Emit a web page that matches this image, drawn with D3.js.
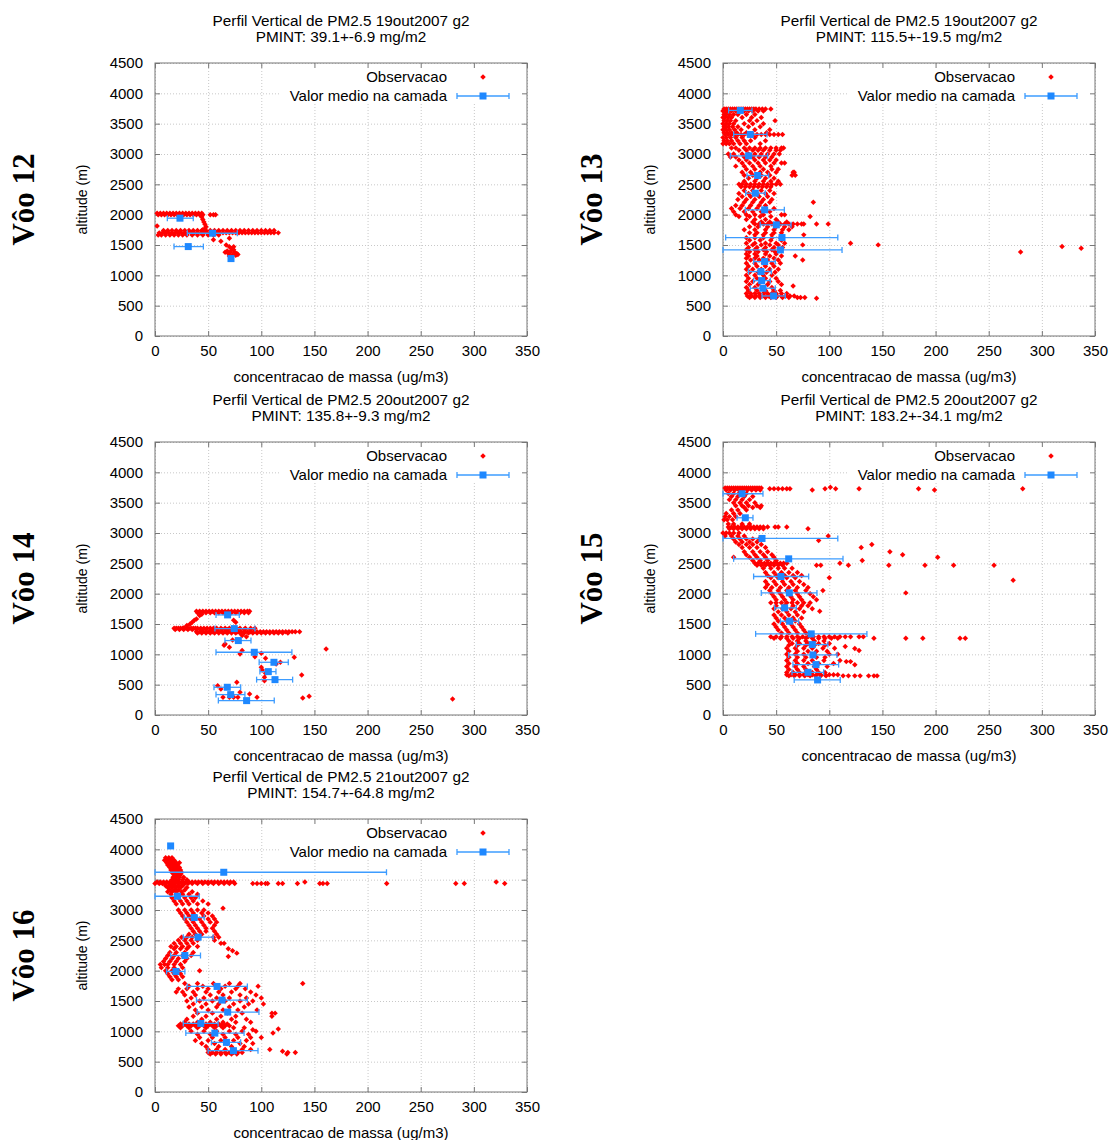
<!DOCTYPE html>
<html>
<head>
<meta charset="utf-8">
<script src="https://cdn.jsdelivr.net/npm/d3@7"></script>
<style>
  body { margin: 0; background: #fff; }
  text { font-family: "Liberation Sans", Arial, sans-serif; fill: #000; }
  .grid line { stroke: #c8c8c8; stroke-dasharray: 1,2; }
  .grid path { display: none; }
  .tick-ax path { display: none; }
  .tick-ax line { stroke: #777; }
</style>
</head>
<body>
<div id="chart"></div>
<script>
// observations: rows of [altitude, [concentration values...]]
var obs12 = [
  [2025, [2,5,8,11,14,17,20,23,26,29,32,35,38,41,44]],
  [2000, [3,6,9,12,15,18,21,24,27,30,33,36,39,42,45,52,55,57]],
  [1960, [44]], [1920, [45]], [1880, [46]], [1840, [47]], [1800, [48]], [1770, [47]], [1750, [45]],
  [1815, [2]],
  [1740, [8,12,16,20,24,28,32,36,40,44,48,52,56,60,64,68,72,76,80,84,88,92,96,100,104,108,112]],
  [1700, [4,7,10,13,16,19,22,25,28,31,34,37,40,43,46,49,52,55,58,61,64,67,70,73,76,79,82,85,88,91,94,97,100,103,106,109,112,116]],
  [1665, [3,6,10,14,18,22,26,30,35,40,45,50,55,60]],
  [1610, [70]], [1585, [55]], [1560, [62]], [1500, [67]],
  [1470, [70,74]], [1440, [72]], [1420, [74]], [1400, [68]], [1390, [71]], [1380, [66,75]],
  [1360, [69,77]], [1345, [78]], [1340, [73]], [1330, [76]], [1320, [70]], [1310, [72]]
];
var mean12 = [[23.5,1942,11.6,36],[54.2,1694,30.4,77.4],[31.3,1474,17.9,45.5],[71.5,1276,71.5,71.5]];

var obs13 = [
  [3740, [1,3,5,7,9,11,13,15,17,19,21,23,25,27,29,31,34,37,40,45]],
  [3710, [0,2,4,6,8,12,16,20,24,28,33,38]],
  [3650, [1,3,6,10,14,22,30]], [3600, [0,2,5,8,18,27,36]], [3550, [1,4,7,12,25,32,49]],
  [3500, [0,3,6,10,20,28,38]], [3450, [1,2,5,9,14,24,35]], [3400, [0,3,6,11,17,30,44]],
  [3350, [1,4,8,13,22,41]],
  [3320, [2,5,8,11,14,17,20,24,28,32,36,40,44,48,52,56]],
  [3270, [0,3,7,12,18,30]], [3220, [1,4,8,14,20,26,40]], [3170, [0,3,6,10,16,22,35]],
  [3100, [8,12,20,25,30,35,40,45,50,55,57]], [3060, [15,22,28,33,38,44,50,54]],
  [3000, [5,10,18,24,30,36,42,48,53]], [2950, [7,12,20,28,34,40,46]], [2900, [15,22,30,38,44,50]],
  [2850, [18,25,33,40,48,55,58]], [2800, [12,20,28,35,45]], [2750, [22,30,38,46,52]],
  [2700, [18,26,35,42,50,66,67]], [2650, [20,28,36,44,65,68]], [2600, [24,32,40,48]],
  [2550, [20,30,38,45,52]], [2500, [15,18,22,26,30,34,38,42,46,50,54]], [2460, [17,21,25,29,33,37,41,45]],
  [2400, [20,28,36,44]], [2350, [15,24,32,40,48]], [2300, [18,26,34,42]], [2250, [14,22,30,38,46]],
  [2205, [20,28,36,44,85]], [2150, [12,18,26,34,40]], [2100, [8,16,24,32,40,48]], [2050, [10,20,28,36,44]],
  [2000, [12,22,30,38,55,58]], [1970, [15,25,35,45,82]], [1920, [22,30,40,50]], [1880, [28,36,44,52,60]],
  [1845, [30,34,38,42,46,50,54,58,62,66,70,74,76,88,99]], [1800, [25,33,42,50,58,65]],
  [1750, [20,30,40,48,56,62]], [1700, [25,32,40,48,55]], [1667, [30,38,46,76]], [1620, [22,30,38,46,54]],
  [1580, [25,35,45,55]], [1530, [22,30,40,50,58,120]], [1502, [28,36,44,52,75,146]],
  [1474, [319]], [1447, [337]], [1386, [280]],
  [1460, [24,32,40,48,56]], [1420, [22,30,38,46,54]], [1390, [25,33,41,49]], [1350, [22,30,40,50]],
  [1320, [24,32,44,55,68]], [1280, [22,30,38,48]], [1254, [26,34,42,52,75]], [1200, [22,30,38,46,54]],
  [1150, [24,32,40,48]], [1100, [22,28,36,44,52]], [1050, [25,33,41,49]], [1000, [22,30,38,46]],
  [950, [24,32,40,50]], [900, [22,28,36,44,52]], [850, [25,33,42,55]], [825, [66]], [800, [22,30,38,46]],
  [750, [24,32,40,48,54]], [700, [22,26,30,34,38,42,46,50,55,60]],
  [660, [23,27,31,35,39,43,47,51,55,59,63,67]], [635, [25,30,35,40,45,50,56,62,70,73,77]], [622, [88]]
];
var mean13 = [[16.3,3718,5.3,27.3],[25.7,3322,10,41.4],[24.1,2970,6.9,42],[32.6,2646,22.6,43],
  [30.4,2354,21.3,39.8],[39.2,2079,21,57.7],[50.2,1832,35,64],[55.5,1623,2.5,108],[54,1419,0,112],
  [39.2,1227,28.8,49.2],[35.7,1062,24,45.5],[36.4,913,28.8,44.5],[37.6,787,25.7,49.2],[47.6,660,36.7,58.6]];

var obs14 = [
  [1710, [39,42,45,48,51,54,57,60,63,66,69,72,75,78,81,84,87,89]],
  [1685, [40,44,48,52,56,60,64,68,72,76,80,84,88]],
  [1660, [44]], [1640, [42]], [1584, [39]], [1560, [37,74]], [1530, [35,76]], [1500, [33]], [1474, [30]], [1436, [27]],
  [1430, [18,20,22,24,26,28,30,32,34,36,38,40,43,46,49,52,55,58,62,66,70,75,80,85,90,94]],
  [1410, [19,23,27,31,35,39,44,48,53,58,63,68,73,78,84,90]],
  [1372, [39,42,45,48,51,54,57,60,63,66,69,72,75,78,81,84,87,90,93,96,99,102,105,108,111,114,117,120,123,126,129,132,136]],
  [1350, [40,44,48,52,56,60,64,68,72,76,80,84,88,92,96,100,104,108,112,116,120,125]],
  [1310, [82]], [1290, [86]],
  [1237, [73]], [1170, [66]], [1150, [65]], [1116, [70]], [1089, [161]],
  [1062, [82]], [1017, [100]], [1006, [80]], [962, [94]], [951, [131]], [935, [104]],
  [869, [118]], [841, [114]], [787, [100]], [742, [101]], [687, [104]], [660, [138]], [621, [103]], [566, [103]],
  [539, [77]], [484, [59]], [429, [62]], [374, [80]], [347, [89]],
  [291, [64,70,74,78,96]], [280, [139]], [308, [145]], [264, [280]]
];
var mean14 = [[68.3,1650,57.4,79.3],[74.6,1424,56.4,94],[78.4,1227,65.8,90.3],[93.4,1034,57.4,128.8],
  [111.9,869,98,125.4],[106.6,715,98.7,113.8],[112.9,583,95.6,129.5],[68,457,55.5,80.6],
  [71.2,336,57.4,84.6],[86.2,237,59.6,112.2]];

var obs15 = [
  [3740, [2,4,6,8,10,12,14,16,18,20,22,24,26,28,30,32,34,36]],
  [3710, [3,7,11,15,19,23,27,31,35,84,199]],
  [3730, [44,48,52,56,60,63,96,106,128,184,282]], [3755, [101]],
  [3650, [5,10,15,22]], [3600, [8,14,20,28]], [3550, [6,12,18,25]], [3500, [10,16,22,30]],
  [3450, [12,18,24,32,36]], [3420, [20,28,35]], [3380, [8,14,22]], [3320, [3,10,16]],
  [3270, [2,6,12]], [3220, [1,4,9]], [3150, [5,10,18,25]],
  [3100, [5,8,11,14,17,20,23,26,29,32,35,38,42,49,52,60]],
  [3070, [6,10,14,18,22,26,30,34,38,80]],
  [3000, [0,3,6,10,15]], [2950, [2,8,14,20,99]], [2900, [10,16,22,28,34]], [2877, [90]],
  [2850, [12,18,25,32]], [2810, [15,22,28,36,140]], [2762, [18,25,32,40,130]], [2690, [20,28,35,42,157]],
  [2640, [22,30,38,46,169]], [2602, [10,25,32,40,48,202]], [2547, [28,35,42,50,131]],
  [2500, [30,33,36,39,42,45,48,51,54,57,60,110]],
  [2470, [32,36,40,44,48,52,56,88,92,118,156,190,217,255]],
  [2420, [38,45,52,58,65]], [2350, [40,48,55,62,70]], [2300, [42,50,58,66,74]], [2261, [45,52,60,68,100]],
  [2222, [273]], [2200, [40,48,56,64,72]], [2150, [42,50,58,66,76]], [2100, [40,46,54,62,70,80]],
  [2052, [44,52,60,68,78,94]], [2013, [172]], [2000, [46,54,62,70,82]], [1950, [48,56,64,72,85]],
  [1900, [50,58,66,74,88]], [1850, [45,50,55,60,65,70,76,82]], [1800, [50,58,66,74,80]],
  [1750, [48,56,64,72,84]], [1711, [91]], [1700, [52,60,68,76]], [1650, [48,55,62,70]],
  [1600, [50,58,66,74]], [1550, [52,60,68]], [1500, [48,56,64,72]], [1450, [50,58,66,74]],
  [1400, [52,60,68,76]], [1350, [55,62,70,78]],
  [1290, [45,50,55,60,65,70,75,80,85,90,95,100,105,110,115,120,128,132]],
  [1265, [48,54,60,66,72,78,84,90,96,102,108,142,172,188,223,228]],
  [1220, [62,70,78,86,95]], [1180, [65,72,80,90,100]], [1128, [115]], [1095, [124]],
  [1150, [62,70,78,86,96]], [1100, [60,68,76,84,94,105]], [1062, [128]], [1050, [62,70,80,88,98]],
  [1000, [60,68,76,86,100,108]], [950, [62,70,78,88,96]], [900, [60,68,76,84,95,110]],
  [880, [116,120]], [850, [62,70,80,90,104]], [830, [124]], [800, [60,68,76,86,98]],
  [750, [62,70,78,88]], [700, [60,66,72,78,84,90,96]],
  [665, [60,64,68,72,76,80,84,88,92,96,100,104,108]],
  [645, [62,67,72,77,82,87,92,97,113,118,124,129,137,142,145]]
];
var mean15 = [[17.9,3647,0,37.6],[21,3251,13.2,28.2],[36.7,2910,0,108],[61.8,2574,10,112.9],
  [54.5,2283,28.8,80.6],[62.4,2013,36,88.4],[58,1766,48.6,69],[62.7,1546,54,71.2],
  [83,1337,30.7,135.4],[84,1161,69,98.7],[84.6,990,61.8,107.2],[87.5,831,65.8,108.8],
  [80,704,64.9,94.7],[89,578,67,110.3]];

var obs16 = [
  [3860, [10,13,16]], [3820, [9,12,15,18]], [3780, [11,14,17,20,23]], [3740, [12,15,18,21]],
  [3700, [14,17,20,23]], [3660, [15,18,21,24]], [3620, [16,19,22,25]], [3580, [18,21,24]],
  [3540, [17,20,23,27]], [3500, [16,19,22,26,30]],
  [3460, [2,5,8,11,14,17,20,23,26,29,32,35,38,41,44,47,50,53,56,59,62,65,68,71,74,141,321]],
  [3435, [0,4,7,10,13,16,19,22,25,28,31,35,40,45,50,55,60,65,70,75,92,96,100,104,106,116,120,134,155,158,162,218,283,291,329]],
  [3400, [10,14,18,22,26]], [3370, [12,16,20,24,30]], [3330, [14,18,22,28]], [3300, [12,16,20,25,35]],
  [3260, [15,20,26,32,40]], [3200, [16,22,28,34,38]], [3150, [18,24,30,36,45]], [3100, [20,26,32,40,50]],
  [3030, [64]], [3000, [22,28,34,40,46]], [2950, [24,30,36,44,50]], [2900, [26,32,38,46,54]],
  [2850, [28,34,42,50,56]], [2800, [30,36,44,52,58]], [2750, [32,38,46,56]], [2700, [34,40,48,54]],
  [2650, [36,42,48,56]], [2600, [32,38,44,58]], [2550, [25,30,35,55,60]], [2500, [22,28,34,40,56]],
  [2450, [18,24,30,36,62,65]], [2400, [15,20,26,32,40]], [2360, [18,24,30,69]], [2327, [73]],
  [2289, [77]], [2234, [69]], [2300, [14,20,28,36]], [2250, [12,18,26,34]], [2200, [10,16,22,30]],
  [2150, [8,14,20,28]], [2100, [5,9,12,18,24]], [2050, [6,12,18,26]], [2000, [10,16,22,42]],
  [1950, [12,18,24]], [1900, [14,20,26]], [1850, [16,22]],
  [1790, [28,40,55,70,80,139]], [1745, [32,45,58,66,78,97]], [1700, [22,30,40,50,62,76,85]],
  [1650, [20,26,36,48,60,72,90]], [1600, [28,38,52,64,80,95]], [1550, [34,46,58,70,86,100]],
  [1500, [30,42,54,66,80,92]], [1450, [36,48,60,74,88,102]], [1400, [32,44,58,70,84]],
  [1350, [38,50,64,78,96]], [1300, [40,54,68,82,110,113]], [1250, [36,48,62,76,110]],
  [1200, [30,44,58,72,86]], [1150, [28,40,52,64,76,90]],
  [1120, [24,28,32,36,40,44,48,52,56,60,64,68]],
  [1090, [22,26,30,34,38,42,46,50,54,58,62,66,70]],
  [1060, [24,32,40,48,56,64,74,84]], [1037, [116]], [1026, [92]],
  [1000, [34,46,58,70,82,95]], [971, [111]], [950, [40,52,64,76,88]], [900, [42,54,66,78,90,100]],
  [850, [38,50,62,74,86]], [800, [44,56,68,80,92]], [750, [48,60,72,84]],
  [700, [50,58,66,74,82,90,108]], [670, [120]],
  [650, [50,54,58,62,66,70,74,78,82,125,132]], [625, [52,57,62,67,72,77,124]]
];
var mean16 = [[14.7,4056,14.7,14.7],[64.7,3622,0,217.8],[21.2,3227,0,41.6],[36.9,2876,27.5,46.3],
  [40.6,2552,26.6,54.7],[28.1,2250,14.7,42.8],[19.7,1987,10.9,28.1],[58.4,1740,30.3,86.9],
  [63.1,1515,39,86.9],[68.4,1317,39.7,97.8],[43.1,1130,26.6,59.4],[56.3,971,29,83.8],
  [67.2,818,53.1,80.6],[73.8,681,50,96.9]];

var xTicks = [0,50,100,150,200,250,300,350];
var yTicks = [0,500,1000,1500,2000,2500,3000,3500,4000,4500];

var panels = [
  { obs: obs12, means: mean12, date: "19out2007", pmint: "39.1+-6.9", flight: "Vôo 12", left: 155, top: 63 },
  { obs: obs13, means: mean13, date: "19out2007", pmint: "115.5+-19.5", flight: "Vôo 13", left: 723, top: 63 },
  { obs: obs14, means: mean14, date: "20out2007", pmint: "135.8+-9.3", flight: "Vôo 14", left: 155, top: 442 },
  { obs: obs15, means: mean15, date: "20out2007", pmint: "183.2+-34.1", flight: "Vôo 15", left: 723, top: 442 },
  { obs: obs16, means: mean16, date: "21out2007", pmint: "154.7+-64.8", flight: "Vôo 16", left: 155, top: 819 }
];

var pw = 372, ph = 273;
var red = "#ff0000", blue = "#1e88ff", barBlue = "#3d9cff";
// small filled diamond, like gnuplot's point
var dot = d3.symbol().type(d3.symbolSquare).size(15);

var svg = d3.select("#chart").append("svg")
  .attr("width", 1111)
  .attr("height", 1140);
svg.append("rect").attr("width", 1111).attr("height", 1140).attr("fill", "#fff");

panels.forEach(function (p) {
  var g = svg.append("g").attr("transform", "translate(" + p.left + "," + p.top + ")");
  var x = d3.scaleLinear().domain([0, 350]).range([0, pw]);
  var y = d3.scaleLinear().domain([0, 4500]).range([ph, 0]);

  // grid
  g.append("g").attr("class", "grid")
    .attr("transform", "translate(0," + ph + ")")
    .call(d3.axisBottom(x).tickValues(xTicks).tickSize(-ph).tickFormat(""));
  g.append("g").attr("class", "grid")
    .call(d3.axisLeft(y).tickValues(yTicks).tickSize(-pw).tickFormat(""));

  // legend background (opaque key)
  g.append("rect").attr("x", 125).attr("y", 2).attr("width", pw - 126).attr("height", 39).attr("fill", "#fff");

  // ticks, inward, mirrored
  var yl = g.append("g").attr("class", "tick-ax")
    .call(d3.axisLeft(y).tickValues(yTicks).tickSize(-5).tickPadding(12).tickFormat(d3.format("d")));
  yl.selectAll("text").attr("font-size", "15px").attr("fill", "#000");
  g.append("g").attr("class", "tick-ax").attr("transform", "translate(" + pw + ",0)")
    .call(d3.axisRight(y).tickValues(yTicks).tickSize(-5).tickFormat(""));
  var xl = g.append("g").attr("class", "tick-ax").attr("transform", "translate(0," + ph + ")")
    .call(d3.axisBottom(x).tickValues(xTicks).tickSize(-5).tickPadding(15));
  xl.selectAll("text").attr("font-size", "15px").attr("fill", "#000").attr("dy", "0.3em");
  g.append("g").attr("class", "tick-ax")
    .call(d3.axisTop(x).tickValues(xTicks).tickSize(-5).tickFormat(""));

  g.append("rect").attr("width", pw).attr("height", ph)
    .attr("fill", "none").attr("stroke", "#777").attr("stroke-width", 1);

  // titles and labels
  g.append("text").attr("x", pw / 2).attr("y", -37).attr("text-anchor", "middle").attr("font-size", "15.3px")
    .text("Perfil Vertical de PM2.5 " + p.date + " g2");
  g.append("text").attr("x", pw / 2).attr("y", -21).attr("text-anchor", "middle").attr("font-size", "15.3px")
    .text("PMINT: " + p.pmint + " mg/m2");
  g.append("text").attr("x", pw / 2).attr("y", ph + 46).attr("text-anchor", "middle").attr("font-size", "15px")
    .text("concentracao de massa (ug/m3)");
  g.append("text").attr("transform", "translate(-68," + (ph / 2) + ") rotate(-90)")
    .attr("text-anchor", "middle").attr("font-size", "14px").text("altitude (m)");
  g.append("text").attr("transform", "translate(-121," + (ph / 2) + ") rotate(-90)")
    .attr("text-anchor", "middle").attr("font-size", "31px").attr("font-weight", "bold")
    .style("font-family", "'Liberation Serif', 'Times New Roman', serif")
    .text(p.flight);

  // observations
  var pts = [];
  p.obs.forEach(function (row) {
    row[1].forEach(function (v) { pts.push([v, row[0]]); });
  });
  g.append("g").selectAll("path").data(pts).enter().append("path")
    .attr("d", dot)
    .attr("transform", function (d) { return "translate(" + x(d[0]) + "," + y(d[1]) + ") rotate(45)"; })
    .attr("fill", red);

  // layer means with horizontal error bars
  var mg = g.append("g").selectAll("g").data(p.means).enter().append("g");
  mg.filter(function (d) { return d[3] > d[2]; }).each(function (d) {
    var s = d3.select(this);
    s.append("line").attr("x1", x(d[2])).attr("x2", x(d[3])).attr("y1", y(d[1])).attr("y2", y(d[1]))
      .attr("stroke", barBlue).attr("stroke-width", 1.3);
    [d[2], d[3]].forEach(function (e) {
      s.append("line").attr("x1", x(e)).attr("x2", x(e)).attr("y1", y(d[1]) - 3).attr("y2", y(d[1]) + 3)
        .attr("stroke", barBlue).attr("stroke-width", 1.3);
    });
  });
  mg.append("rect")
    .attr("x", function (d) { return x(d[0]) - 3.5; })
    .attr("y", function (d) { return y(d[1]) - 3.5; })
    .attr("width", 7).attr("height", 7)
    .attr("fill", blue);

  // legend
  g.append("text").attr("x", pw - 80).attr("y", 19).attr("text-anchor", "end").attr("font-size", "15px")
    .text("Observacao");
  g.append("path").attr("d", dot).attr("transform", "translate(" + (pw - 44) + ",14) rotate(45)").attr("fill", red);
  g.append("text").attr("x", pw - 80).attr("y", 38).attr("text-anchor", "end").attr("font-size", "15px")
    .text("Valor medio na camada");
  g.append("line").attr("x1", pw - 70).attr("x2", pw - 18).attr("y1", 33).attr("y2", 33)
    .attr("stroke", barBlue).attr("stroke-width", 1.3);
  [pw - 70, pw - 18].forEach(function (e) {
    g.append("line").attr("x1", e).attr("x2", e).attr("y1", 30).attr("y2", 36)
      .attr("stroke", barBlue).attr("stroke-width", 1.3);
  });
  g.append("rect").attr("x", pw - 47.5).attr("y", 29.5).attr("width", 7).attr("height", 7).attr("fill", blue);
});
</script>
</body>
</html>
